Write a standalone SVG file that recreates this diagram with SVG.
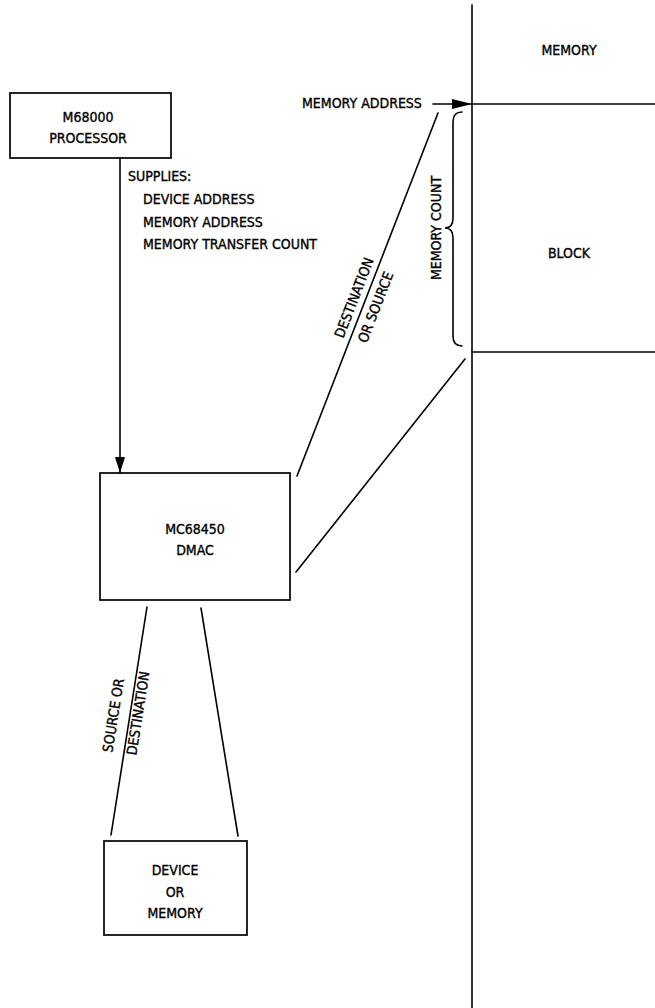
<svg xmlns="http://www.w3.org/2000/svg" width="655" height="1008" viewBox="0 0 655 1008">
<style>
.ln{stroke:#000;stroke-width:1.6;fill:none;stroke-linecap:round}
.bx{stroke:#000;stroke-width:1.7;fill:#fff}
text{font-family:"DejaVu Sans Condensed","Liberation Sans Narrow","Liberation Sans",sans-serif;font-size:14px;fill:#000;stroke:#000;stroke-width:0.35}
.c{text-anchor:middle}
</style>
<defs>
<marker id="ah" viewBox="0 0 20 10" refX="20" refY="5" markerWidth="20" markerHeight="10" markerUnits="userSpaceOnUse" orient="auto">
<path d="M0,0 L20,5 L0,10 Z" fill="#000"/>
</marker>
<marker id="ad" viewBox="0 0 16 10" refX="16" refY="5" markerWidth="16" markerHeight="10" markerUnits="userSpaceOnUse" orient="auto">
<path d="M0,0 L16,5 L0,10 Z" fill="#000"/>
</marker>
</defs>
<rect width="655" height="1008" fill="#fff"/>

<g id="memory">
<line class="ln" x1="472" y1="5" x2="472" y2="1008"/>
<line class="ln" x1="472" y1="104" x2="655" y2="104"/>
<line class="ln" x1="472" y1="352" x2="655" y2="352"/>
<text class="c" x="569" y="55">MEMORY</text>
<text class="c" x="569" y="258">BLOCK</text>
</g>

<g id="processor">
<rect class="bx" x="10" y="93" width="161" height="65"/>
<text class="c" x="88" y="122">M68000</text>
<text class="c" x="88" y="143">PROCESSOR</text>
</g>

<g id="dmac">
<rect class="bx" x="100" y="473" width="190" height="127"/>
<text class="c" x="195" y="534">MC68450</text>
<text class="c" x="195" y="555">DMAC</text>
</g>

<g id="device">
<rect class="bx" x="104" y="841" width="143" height="94"/>
<text class="c" x="175" y="875">DEVICE</text>
<text class="c" x="175" y="897">OR</text>
<text class="c" x="175" y="918">MEMORY</text>
</g>

<g id="connectors">
<line class="ln" x1="120" y1="158" x2="120" y2="473" marker-end="url(#ad)"/>
<line class="ln" x1="433" y1="104" x2="472" y2="104" marker-end="url(#ah)"/>
<line class="ln" x1="438" y1="113" x2="297" y2="476"/>
<line class="ln" x1="465" y1="359" x2="296" y2="572"/>
<line class="ln" x1="147" y1="607" x2="111" y2="835"/>
<line class="ln" x1="201" y1="608" x2="238" y2="836"/>
<path class="ln" d="M462,112 Q453,112 453,122 L453,218 Q453,228 445,228 Q453,228 453,238 L453,336 Q453,346 462,346"/>
</g>

<g id="labels">
<text x="128" y="181">SUPPLIES:</text>
<text x="143" y="204">DEVICE ADDRESS</text>
<text x="143" y="227">MEMORY ADDRESS</text>
<text x="143" y="249">MEMORY TRANSFER COUNT</text>
<text x="302" y="108">MEMORY ADDRESS</text>
<text class="c" transform="translate(441,228) rotate(-90)">MEMORY COUNT</text>
<g transform="translate(365.4,300) rotate(-68.8)">
<text class="c" x="-2" y="-6.5">DESTINATION</text>
<text class="c" x="-3" y="17">OR SOURCE</text>
</g>
<g transform="translate(130,715) rotate(-81)">
<text class="c" x="-3" y="-11.5">SOURCE OR</text>
<text class="c" x="3" y="12.5">DESTINATION</text>
</g>
</g>
</svg>
